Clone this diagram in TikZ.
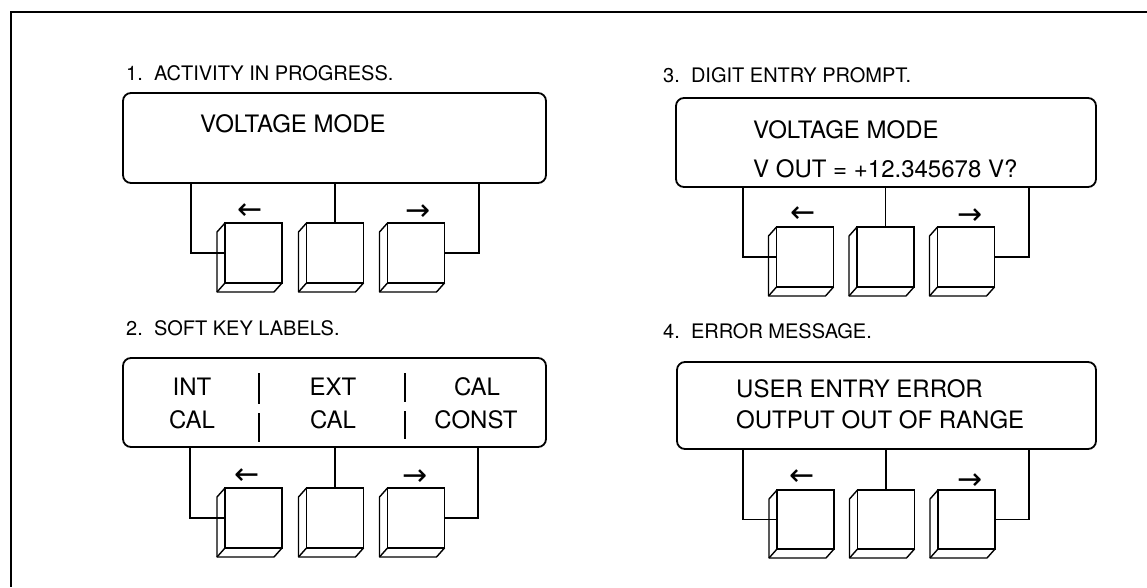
\documentclass[tikz,border=0pt]{standalone}
\usepackage{fontspec}
\setmainfont{TeX Gyre Heros}
\newfontfamily\arrowfont{DejaVu Sans}
\usetikzlibrary{calc}
\newcommand\keybevel[1]{%
  \draw[keyline] (#1.north west) -- ++(-8,9) |- ($(#1.south east)+(-8,9)$) -- (#1.south east);
  \draw[keyline] (#1.south west) -- ++(-8,9);}
\tikzset{
  frameline/.style={line width=2pt},
  dispbox/.style={draw, line width=1.8pt, rounded corners=8pt, inner sep=0pt, outer sep=0pt},
  keyface/.style={draw, line width=1.7pt, minimum width=57pt, minimum height=60pt, inner sep=0pt, outer sep=0pt},
  keyline/.style={line width=1.4pt, line join=round},
  wire/.style={line width=1.4pt},
  divider/.style={line width=1.4pt},
  title/.style={anchor=base west, font=\fontsize{20}{24}\selectfont, inner sep=0pt},
  disptext/.style={anchor=base west, font=\fontsize{24}{28}\selectfont, inner sep=0pt},
  soft/.style={anchor=base, font=\fontsize{24}{28}\selectfont, inner sep=0pt},
  arrowlbl/.style={font=\arrowfont\fontsize{30}{32}\selectfont, inner sep=0pt}
}
\begin{document}
\begin{tikzpicture}[x=1pt,y=-1pt]
\useasboundingbox (0,0) rectangle (1147,587);
% frame
\draw[frameline] (1147,12) -- (11,12) -- (11,587);

% ---------- Panel 1 ----------
\node[title] (t1) at (126,80) {1.\ \ ACTIVITY IN PROGRESS.};
\node[dispbox, minimum width=423pt, minimum height=90pt] (b1) at (334.5,138) {};
\node[disptext] (b1l1) at (200,132) {VOLTAGE MODE};
\node[keyface] (k1a) at (253.5,253) {};
\node[keyface] (k1b) at (335,253) {};
\node[keyface] (k1c) at (416,253) {};
\keybevel{k1a}\keybevel{k1b}\keybevel{k1c}
\draw[wire] (k1a.west) -| ($(b1.south west)+(68,0)$);
\draw[wire] (k1b.north) -- (k1b.north |- b1.south);
\draw[wire] (k1c.east) -| ($(b1.south east)+(-67,0)$);
\node[arrowlbl] (a1l) at (250,212) {←};
\node[arrowlbl] (a1r) at (418,213) {→};

% ---------- Panel 2 ----------
\node[title] (t2) at (126,335) {2.\ \ SOFT KEY LABELS.};
\node[dispbox, minimum width=423pt, minimum height=89pt] (b2) at (334.5,402.5) {};
\node[soft] (s1a) at (192,395) {INT};
\node[soft] (s1b) at (192,428) {CAL};
\node[soft] (s2a) at (333,395) {EXT};
\node[soft] (s2b) at (333,428) {CAL};
\node[soft] (s3a) at (477,395) {CAL};
\node[soft] (s3b) at (476,428) {CONST};
\draw[divider] (259,373) -- (259,404);
\draw[divider] (259,413) -- (259,442);
\draw[divider] (405,373) -- (405,402);
\draw[divider] (405,411) -- (405,439);
\node[keyface] (k2a) at (253.5,518) {};
\node[keyface] (k2b) at (335,518) {};
\node[keyface] (k2c) at (416,518) {};
\keybevel{k2a}\keybevel{k2b}\keybevel{k2c}
\draw[wire] (k2a.west) -| ($(b2.south west)+(67,0)$);
\draw[wire] (k2b.north) -- (k2b.north |- b2.south);
\draw[wire] (k2c.east) -| ($(b2.south east)+(-68,0)$);
\node[arrowlbl] (a2l) at (247,477) {←};
\node[arrowlbl] (a2r) at (415,478) {→};

% ---------- Panel 3 ----------
\node[title] (t3) at (663,82) {3.\ \ DIGIT ENTRY PROMPT.};
\node[dispbox, minimum width=420pt, minimum height=89pt] (b3) at (886,142.5) {};
\node[disptext] (b3l1) at (753,138) {VOLTAGE MODE};
\node[disptext] (b3l2) at (753,177) {V OUT = +12.345678 V?};
\node[keyface] (k3a) at (805,257) {};
\node[keyface] (k3b) at (885.5,257) {};
\node[keyface] (k3c) at (966,257) {};
\keybevel{k3a}\keybevel{k3b}\keybevel{k3c}
\draw[wire] (k3a.west) -| ($(b3.south west)+(67,0)$);
\draw[wire] (k3b.north) -- (k3b.north |- b3.south);
\draw[wire] (k3c.east) -| ($(b3.south east)+(-67,0)$);
\node[arrowlbl] (a3l) at (803,215) {←};
\node[arrowlbl] (a3r) at (970,217) {→};

% ---------- Panel 4 ----------
\node[title] (t4) at (663,338) {4.\ \ ERROR MESSAGE.};
\node[dispbox, minimum width=419pt, minimum height=87pt] (b4) at (886.5,405.5) {};
\node[disptext] (b4l1) at (736,397) {USER ENTRY ERROR};
\node[disptext] (b4l2) at (736,428) {OUTPUT OUT OF RANGE};
\node[keyface, minimum height=59pt] (k4a) at (805.5,519.5) {};
\node[keyface, minimum height=59pt] (k4b) at (886,519.5) {};
\node[keyface, minimum height=59pt] (k4c) at (966.5,519.5) {};
\keybevel{k4a}\keybevel{k4b}\keybevel{k4c}
\draw[wire] (k4a.west) -| ($(b4.south west)+(66,0)$);
\draw[wire] (k4b.north) -- (k4b.north |- b4.south);
\draw[wire] (k4c.east) -| ($(b4.south east)+(-67,0)$);
\node[arrowlbl] (a4l) at (802,478) {←};
\node[arrowlbl] (a4r) at (970,482) {→};
\end{tikzpicture}
\end{document}
